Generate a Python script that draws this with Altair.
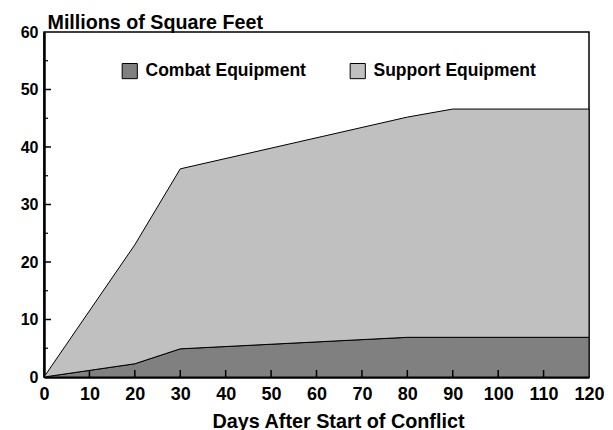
import altair as alt
import pandas as pd

days = [0, 20, 30, 80, 90, 120]
combat = [0, 2.3, 4.9, 6.9, 6.9, 6.9]
support = [0, 20.7, 31.3, 38.3, 39.7, 39.7]
series = ["Combat Equipment", "Support Equipment"]
colors = ["#808080", "#c0c0c0"]
x_ticks = [0, 10, 20, 30, 40, 50, 60, 70, 80, 90, 100, 110, 120]
y_ticks = [0, 10, 20, 30, 40, 50, 60]
y_minor = [5, 15, 25, 35, 45, 55]

rows = []
for d, c, s in zip(days, combat, support):
    rows.append({"day": d, "series": series[0], "value": c, "ord": 0})
    rows.append({"day": d, "series": series[1], "value": s, "ord": 1})
df = pd.DataFrame(rows)

FONT = "Liberation Sans"
W, H = 545, 345

xscale = alt.Scale(domain=[0, 120], nice=False, zero=False)
yscale = alt.Scale(domain=[0, 60], nice=False)

areas = alt.Chart(df).mark_area(stroke="black", strokeWidth=1, opacity=1).encode(
    x=alt.X("day:Q", scale=xscale,
            axis=alt.Axis(values=x_ticks, title="Days After Start of Conflict",
                          tickSize=0, labelPadding=8, labelFontSize=18,
                          labelFont=FONT, labelFontWeight="bold", labelColor="black",
                          titleFont=FONT, titleFontSize=19.8, titleFontWeight="bold",
                          titleColor="black", titleX=294, titleAlign="center",
                          titleY=50, titleBaseline="alphabetic",
                          domainColor="black", domainWidth=2.5, grid=False,
                          labelFlush=False)),
    y=alt.Y("value:Q", stack="zero", scale=yscale,
            axis=alt.Axis(values=y_ticks, title="Millions of Square Feet",
                          tickSize=0, labelPadding=6, labelFontSize=16,
                          labelFont=FONT, labelFontWeight="bold", labelColor="black",
                          titleFont=FONT, titleFontSize=19.7, titleFontWeight="bold",
                          titleColor="black", titleAngle=0, titleAlign="left",
                          titleX=3, titleY=-4, titleBaseline="alphabetic",
                          domainColor="black", domainWidth=2.5, grid=False)),
    color=alt.Color("series:N", scale=alt.Scale(domain=series, range=colors),
                    legend=alt.Legend(title=None, orient="none", legendX=77, legendY=30,
                                      direction="horizontal", symbolType="square",
                                      symbolSize=230, symbolStrokeColor="black",
                                      symbolStrokeWidth=1, symbolOpacity=1,
                                      labelFont=FONT, labelFontSize=17.5,
                                      labelFontWeight="bold", labelColor="black",
                                      columnPadding=42, labelOffset=7, labelLimit=300)),
    order=alt.Order("ord:Q"),
)

xt = pd.DataFrame({"t": x_ticks[1:-1]})
xtick_layer = alt.Chart(xt).mark_rule(color="black", strokeWidth=1.5).encode(
    x=alt.X("t:Q", scale=xscale), y=alt.value(H), y2=alt.value(H - 7))

yt = pd.DataFrame({"t": y_ticks[1:-1]})
ytick_layer = alt.Chart(yt).mark_rule(color="black", strokeWidth=1.5).encode(
    y=alt.Y("t:Q", scale=yscale), x=alt.value(0), x2=alt.value(7))

ym = pd.DataFrame({"t": y_minor})
yminor_layer = alt.Chart(ym).mark_rule(color="black", strokeWidth=1.2).encode(
    y=alt.Y("t:Q", scale=yscale), x=alt.value(0), x2=alt.value(4))

chart = alt.layer(areas, xtick_layer, ytick_layer, yminor_layer).properties(
    width=W, height=H,
    autosize=alt.AutoSizeParams(type="none"),
    padding={"left": 36, "top": 24, "right": 16, "bottom": 53},
    background="white",
).configure_view(stroke="black", strokeWidth=1.5)

chart.save("out.html", embed_options={"renderer": "svg", "actions": False})
